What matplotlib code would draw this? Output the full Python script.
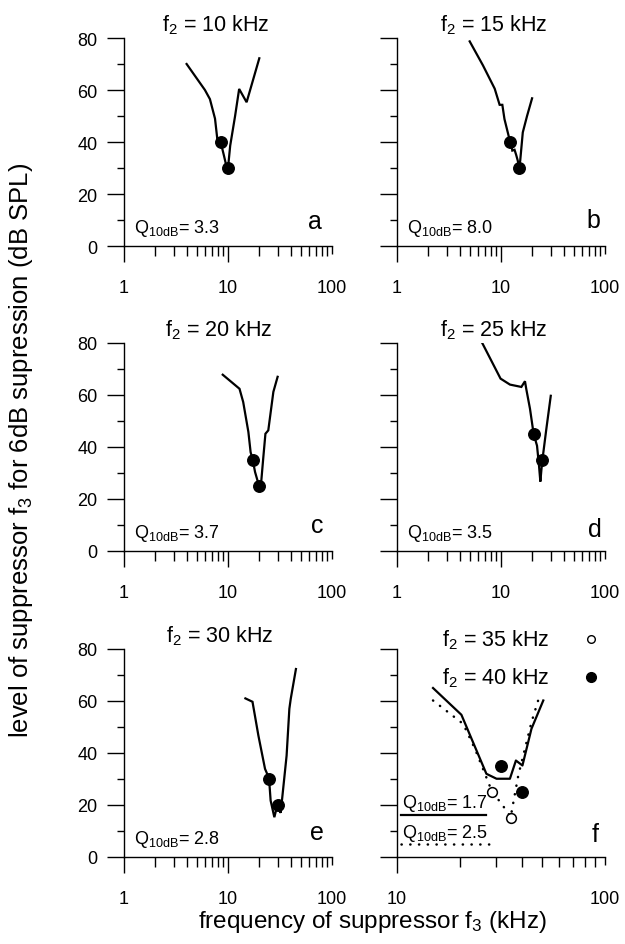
import matplotlib
matplotlib.use("Agg")
import matplotlib.pyplot as plt
from matplotlib import font_manager

BASE = "Liberation Sans"
_installed = {f.name for f in font_manager.fontManager.ttflist}
NARROW = "Liberation Sans Narrow" if "Liberation Sans Narrow" in _installed else BASE

plt.rcParams.update({
    "font.family": [BASE, "DejaVu Sans"],
    "mathtext.fontset": "custom",
    "mathtext.rm": BASE,
    "mathtext.it": BASE + ":italic",
    "mathtext.bf": BASE + ":bold",
    "axes.linewidth": 1.0,
})

# ---- suppression tuning curves (suppressor frequency kHz, level dB SPL) ----
freq_a = [4.0, 6.0, 6.7, 7.5, 7.9, 8.5, 9.15, 9.55, 10.0, 10.5, 11.7, 12.8, 15.1, 20.0]
level_a = [70, 60, 56.5, 49, 41, 40, 34.7, 31.5, 30, 38.6, 50, 60.4, 55.3, 72.2]
dot_freq_a = [8.5, 10.0]
dot_level_a = [40, 30]

freq_b = [5.0, 6.7, 8.7, 9.7, 10.3, 10.8, 11.9, 12.3, 12.85, 13.5, 14.0, 14.5, 14.9,
          15.3, 16.2, 17.8, 19.9]
level_b = [78.7, 69.5, 60.5, 54.3, 54.3, 48.8, 42, 40.3, 36.7, 37, 35, 32.8, 30,
           32.8, 43.7, 50, 56.8]
dot_freq_b = [12.3, 14.9]
dot_level_b = [40, 30]

freq_c = [8.9, 12.9, 14.0, 15.7, 16.5, 17.3, 18.2, 19.6, 20.0, 20.8, 21.8, 22.9, 24.4,
          27.3, 30.0]
level_c = [67.8, 62.4, 57.3, 45.8, 38, 35, 30.4, 25.9, 25, 26, 35.5, 45.1, 46.4,
           61.2, 67]
dot_freq_c = [17.3, 20.0]
dot_level_c = [35, 25]

freq_d = [6.6, 9.9, 12.2, 15.7, 17.0, 17.5, 19.0, 20.6, 22.2, 23.2, 23.9, 24.5, 25.0,
          27.3, 30.1]
level_d = [80, 66.3, 64, 63.1, 65.3, 62.3, 54.7, 45, 40.5, 32.8, 26.7, 31.5, 35,
           47, 59.7]
dot_freq_d = [20.6, 25.0]
dot_level_d = [45, 35]

freq_e = [14.7, 17.2, 19.6, 22.7, 24.8, 25.7, 27.9, 29.0, 30.0, 31.0, 32.1, 36.6,
          38.9, 40.1, 45.0]
level_e = [61, 59.7, 46.7, 33.9, 30.3, 21.7, 15.3, 18, 20, 18, 17, 39, 57, 60.8, 72.3]
dot_freq_e = [24.8, 30.0]
dot_level_e = [30, 20]

# panel f: two probe frequencies on one axis
freq_f_solid = [14.9, 20.4, 26.9, 30.1, 34.9, 37.3, 40.1, 44.3, 50.5]
level_f_solid = [65, 54.7, 32, 30.1, 30.1, 37.1, 35.2, 49.3, 60.2]
freq_f_dotted = [14.9, 20.8, 23.7, 25.9, 28.6, 31.8, 35.2, 38.3, 41.2, 44.3, 47.7]
level_f_dotted = [60.2, 51.2, 41.6, 33.9, 25.2, 20.5, 15.4, 31.4, 41.6, 51.8, 60.2]
open_freq_f = [28.6, 35.2]
open_level_f = [25, 15]
filled_freq_f = [31.6, 40.0]
filled_level_f = [35, 25]

titles = ["10", "15", "20", "25", "30"]
q_values = ["3.3", "8.0", "3.7", "3.5", "2.8"]
q_values_f = ["1.7", "2.5"]
panel_letters = ["a", "b", "c", "d", "e", "f"]
legend_f = ["35", "40"]

y_major = [0, 20, 40, 60, 80]
y_minor = [10, 30, 50, 70]
x_major = [1, 10, 100]
x_major_f = [10, 100]

W, H = 625, 945
fig = plt.figure(figsize=(W / 100, H / 100), dpi=100)

col_x = [124, 397]
row_bottom = [247, 552, 858]
ax_w, ax_h = 208, 208

DOTTED = (0, (0.1, 3.4))
TITLE_SIZE = 15.5


def make_axes(col, row):
    left = col_x[col] / W
    bottom = 1 - row_bottom[row] / H
    return fig.add_axes([left, bottom, ax_w / W, ax_h / H])


def style_axes(ax, xmajor, show_ylabels):
    ax.set_xscale("log")
    ax.set_xlim(xmajor[0], xmajor[-1])
    ax.set_ylim(0, 80)
    for s in ("top", "right"):
        ax.spines[s].set_visible(False)
    ax.set_yticks(y_major)
    ax.set_yticks(y_minor, minor=True)
    ax.set_xticks(xmajor)
    ax.set_xticklabels([str(v) for v in xmajor])
    if not show_ylabels:
        ax.set_yticklabels([])
    ax.tick_params(axis="y", which="major", direction="out", length=12, width=1.0,
                   labelsize=13, pad=7)
    ax.tick_params(axis="y", which="minor", direction="out", length=5.3, width=1.0)
    ax.tick_params(axis="x", which="major", direction="out", length=11.8, width=1.0,
                   labelsize=13, pad=12)
    ax.tick_params(axis="x", which="minor", direction="out", length=7, width=1.0)
    ax.xaxis.set_minor_formatter(plt.NullFormatter())
    # the closing tick at the right end of the axis is short
    ax.xaxis.get_major_ticks()[-1].tick1line.set_markersize(5.8)


curves = [
    (freq_a, level_a, dot_freq_a, dot_level_a),
    (freq_b, level_b, dot_freq_b, dot_level_b),
    (freq_c, level_c, dot_freq_c, dot_level_c),
    (freq_d, level_d, dot_freq_d, dot_level_d),
    (freq_e, level_e, dot_freq_e, dot_level_e),
]
letter_pos = [(0.918, 0.12), (0.942, 0.125), (0.928, 0.126), (0.952, 0.106),
              (0.928, 0.12), (0.952, 0.11)]
title_x = [0.443, 0.466, 0.457, 0.466, 0.46]

for i, (fx, lv, dfx, dlv) in enumerate(curves):
    col, row = i % 2, i // 2
    ax = make_axes(col, row)
    style_axes(ax, x_major, col == 0)
    ax.plot(fx, lv, color="black", lw=1.6, solid_joinstyle="miter")
    ax.plot(dfx, dlv, "o", color="black", ms=8.3, zorder=3)
    ax.text(title_x[i], 1.067, r"$\mathrm{f}_{2}$ = " + titles[i] + " kHz",
            transform=ax.transAxes, ha="center", va="center", fontsize=TITLE_SIZE)
    ax.text(0.048, 0.091, r"Q$_{\mathrm{10dB}}$= " + q_values[i],
            transform=ax.transAxes, ha="left", va="center", fontsize=13)
    lx, ly = letter_pos[i]
    ax.text(lx, ly, panel_letters[i], transform=ax.transAxes, ha="center",
            va="center", fontsize=18)

# panel f
ax = make_axes(1, 2)
style_axes(ax, x_major_f, False)
ax.plot(freq_f_solid, level_f_solid, color="black", lw=1.6)
ax.plot(freq_f_dotted, level_f_dotted, color="black", lw=1.8,
        linestyle=DOTTED, dash_capstyle="round")
ax.plot(open_freq_f, open_level_f, "o", mfc="white", mec="black", mew=1.1, ms=7,
        zorder=3)
ax.plot(filled_freq_f, filled_level_f, "o", color="black", ms=8.3, zorder=3)

ax.text(0.735, 1.048, r"$\mathrm{f}_{2}$ = " + legend_f[0] + " kHz",
        transform=ax.transAxes, ha="right", va="center", fontsize=TITLE_SIZE)
ax.text(0.735, 0.865, r"$\mathrm{f}_{2}$ = " + legend_f[1] + " kHz",
        transform=ax.transAxes, ha="right", va="center", fontsize=TITLE_SIZE)
ax.plot([0.933], [1.048], "o", mfc="white", mec="black", mew=1.0, ms=5.5,
        transform=ax.transAxes, clip_on=False)
ax.plot([0.933], [0.865], "o", color="black", ms=7, transform=ax.transAxes,
        clip_on=False)

ax.text(0.024, 0.262, r"Q$_{\mathrm{10dB}}$= " + q_values_f[0],
        transform=ax.transAxes, ha="left", va="center", fontsize=13)
ax.plot([0.017, 0.43], [0.2, 0.2], color="black", lw=1.6, transform=ax.transAxes)
ax.text(0.024, 0.118, r"Q$_{\mathrm{10dB}}$= " + q_values_f[1],
        transform=ax.transAxes, ha="left", va="center", fontsize=13)
ax.plot([0.017, 0.46], [0.062, 0.062], color="black", lw=1.8,
        linestyle=DOTTED, dash_capstyle="round", transform=ax.transAxes)
lx, ly = letter_pos[5]
ax.text(lx, ly, panel_letters[5], transform=ax.transAxes, ha="center",
        va="center", fontsize=18)

# shared axis titles
fig.text(21 / W, 1 - 450 / H,
         r"level of suppressor $\mathrm{f}_{3}$ for 6dB supression (dB SPL)",
         rotation=90, ha="center", va="center", fontsize=18.5, family=NARROW)
fig.text(373 / W, 1 - 922 / H, r"frequency of suppressor $\mathrm{f}_{3}$ (kHz)",
         ha="center", va="center", fontsize=17.5, family=NARROW)

fig.savefig("out.png", dpi=100)
